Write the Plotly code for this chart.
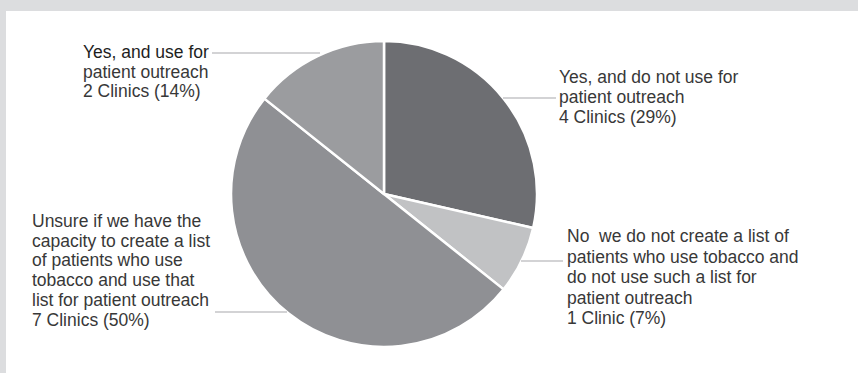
import plotly.graph_objects as go

labels = [
    "Yes, and do not use for patient outreach",
    "No  we do not create a list of patients who use tobacco and do not use such a list for patient outreach",
    "Unsure if we have the capacity to create a list of patients who use tobacco and use that list for patient outreach",
    "Yes, and use for patient outreach",
]
clinics = [4, 1, 7, 2]
percents = [29, 7, 50, 14]
label_lines = [
    ["Yes, and do not use for", "patient outreach"],
    ["No  we do not create a list of", "patients who use tobacco and", "do not use such a list for", "patient outreach"],
    ["Unsure if we have the", "capacity to create a list", "of patients who use", "tobacco and use that", "list for patient outreach"],
    ["Yes, and use for", "patient outreach"],
]
colors = ["#6d6e72", "#c1c2c4", "#8f9094", "#9b9c9f"]

W, H = 858, 373
FS = 17.5

def px(x):
    return x / W

def py(y):
    return 1 - y / H

fig = go.Figure()
fig.add_trace(go.Pie(
    labels=labels, values=clinics, sort=False, direction="clockwise", rotation=0,
    marker=dict(colors=colors, line=dict(color="white", width=2.5)),
    textinfo="none", hoverinfo="label+value", showlegend=False,
    domain=dict(x=[px(231), px(537)], y=[py(347), py(41)]),
))

def unit(n):
    return "Clinic" if n == 1 else "Clinics"

# (text left x, first baseline y, line spacing, leader x0, x1, y)
placements = [
    (557, 83, 20.0, 503, 556, 98),
    (565, 242, 20.6, 521, 563, 261),
    (30, 227, 19.7, 215, 287, 312),
    (81, 58, 19.5, 212, 320, 53),
]

annotations = []
shapes = [
    dict(type="rect", xref="paper", yref="paper", x0=0, x1=1, y0=py(11), y1=1,
         fillcolor="#dcdddf", line=dict(width=0), layer="below"),
    dict(type="rect", xref="paper", yref="paper", x0=0, x1=px(6), y0=0, y1=1,
         fillcolor="#dcdddf", line=dict(width=0), layer="below"),
]
for i, (tx, base, sp, lx0, lx1, ly) in enumerate(placements):
    lines = label_lines[i] + [f"{clinics[i]} {unit(clinics[i])} ({percents[i]}%)"]
    for k, line in enumerate(lines):
        col = "#1e1e1e" if (i == 3 and k == 0) else "#383838"
        annotations.append(dict(
            text=line, x=px(tx), y=py(base + k * sp - 6), xref="paper", yref="paper",
            xanchor="left", yanchor="middle", align="left", showarrow=False,
            font=dict(family="Liberation Sans, Arial, sans-serif", size=FS, color=col),
        ))
    shapes.append(dict(type="line", xref="paper", yref="paper",
                       x0=px(lx0), x1=px(lx1), y0=py(ly), y1=py(ly),
                       line=dict(color="#a7a8ab", width=1.2)))

fig.update_layout(
    width=W, height=H, margin=dict(l=0, r=0, t=0, b=0),
    paper_bgcolor="white", plot_bgcolor="white",
    annotations=annotations, shapes=shapes,
)
fig.write_html("out.html", config={"displayModeBar": False},
               post_script="document.body.style.margin='0';document.body.style.overflow='hidden';")
